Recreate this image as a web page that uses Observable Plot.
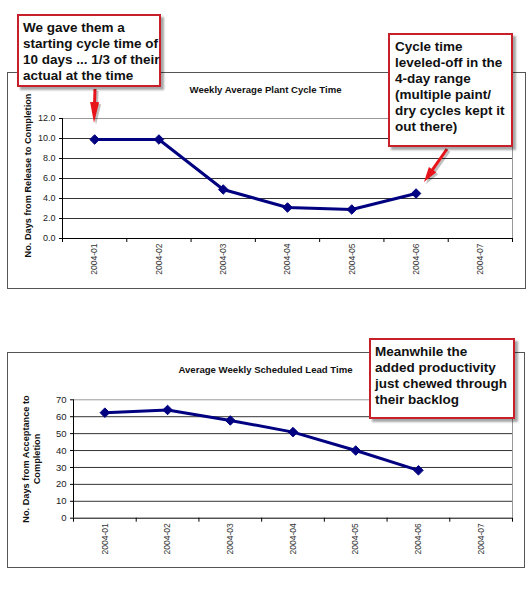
<!DOCTYPE html>
<html>
<head>
<meta charset="utf-8">
<script src="https://cdn.jsdelivr.net/npm/d3@7"></script>
<script src="https://cdn.jsdelivr.net/npm/@observablehq/plot@0.6"></script>
<style>
  html, body { margin: 0; padding: 0; background: #fff; }
  #page { position: relative; width: 530px; height: 594px; overflow: hidden; background: #fff;
          font-family: "Liberation Sans", Arial, sans-serif; }
  .frame { position: absolute; box-sizing: border-box; border: 1px solid #555; background: #fff; }
  .chart { position: absolute; left: 0; }
  .callout { position: absolute; box-sizing: border-box; background: #fff; border: 2px solid #c8202a;
             box-shadow: 3px 3px 2px rgba(0,0,0,0.35); padding: 4px 2px 0 4px;
             font: bold 13.5px/16px "Liberation Sans", Arial, sans-serif; color: #111; white-space: nowrap; }
  #arrows { position: absolute; left: 0; top: 0; pointer-events: none; }
</style>
</head>
<body>
<div id="page">
  <div class="frame" style="left:7px;top:72px;width:519px;height:217px;"></div>
  <div class="frame" style="left:7px;top:352px;width:518px;height:216px;"></div>
  <div id="c1" class="chart" style="top:0px;"></div>
  <div id="c2" class="chart" style="top:300px;"></div>
  <svg id="arrows" width="530" height="594"></svg>
  <div class="callout" style="left:17px;top:14px;width:144px;height:73px;">We gave them a<br>starting cycle time of<br>10 days ... 1/3 of their<br>actual at the time</div>
  <div class="callout" style="left:388px;top:33px;width:125px;height:114px;padding-left:5px;">Cycle time<br>leveled-off in the<br>4-day range<br>(multiple paint/<br>dry cycles kept it<br>out there)</div>
  <div class="callout" style="left:369px;top:338px;width:146px;height:81px;padding-left:4px;">Meanwhile the<br>added productivity<br>just chewed through<br>their backlog</div>
</div>
<script>
// ---- data ----
const weeks = ["2004-01", "2004-02", "2004-03", "2004-04", "2004-05", "2004-06", "2004-07"];
const cycleTime = [9.9, 9.9, 4.9, 3.1, 2.9, 4.5];      // weekly average plant cycle time (days)
const leadTime = [62.4, 64.0, 57.8, 50.9, 40.0, 28.3];  // average weekly scheduled lead time (days)
const cycleTicks = [0, 2, 4, 6, 8, 10, 12];
const leadTicks = [0, 10, 20, 30, 40, 50, 60, 70];
const title1 = "Weekly Average Plant Cycle Time";
const title2 = "Average Weekly Scheduled Lead Time";
const ylabel1 = "No. Days from Release to Completion";
const ylabel2 = "No. Days from Acceptance to\nCompletion";

const font = "'Liberation Sans', Arial, sans-serif";

function chart({values, ticks, fmt, title, ylabel, height, mt, mb, ml, titleDx, titleDy, labelDx, labelDy, tickFont}) {
  const rows = values.map((v, i) => ({week: weeks[i], i, value: v}));
  const top = ticks[ticks.length - 1];
  return Plot.plot({
    width: 530,
    height,
    marginTop: mt,
    marginBottom: mb,
    marginLeft: ml,
    marginRight: 18,
    x: {domain: [0, weeks.length], axis: null},
    y: {domain: [0, top], axis: null},
    style: {fontFamily: font, background: "transparent", overflow: "visible", color: "#222"},
    marks: [
      Plot.ruleY(ticks.filter(t => t > 0 && t < top), {stroke: "#333", strokeWidth: 1}),
      Plot.ruleY([top], {stroke: "#999", strokeWidth: 1}),
      Plot.ruleX([weeks.length], {stroke: "#999", strokeWidth: 1}),
      Plot.axisY({ticks, tickFormat: fmt, tickSize: 3, tickPadding: 4, fontSize: tickFont, label: null, stroke: "#000", fill: "#222"}),
      Plot.axisX({ticks: d3.range(weeks.length + 1), tickFormat: () => "", tickSize: 4, label: null, stroke: "#000"}),
      Plot.ruleX([0], {stroke: "#000", strokeWidth: 1}),
      Plot.ruleY([0], {stroke: "#000", strokeWidth: 1}),
      Plot.text(weeks, {x: (d, i) => i + 0.5, text: d => d, frameAnchor: "bottom", rotate: -90,
                        textAnchor: "end", lineAnchor: "middle", dy: 5, fontSize: 8.5, fill: "#333"}),
      Plot.line(rows, {x: d => d.i + 0.5, y: "value", stroke: "#000080", strokeWidth: 3}),
      Plot.dot(rows, {x: d => d.i + 0.5, y: "value", symbol: "diamond2", r: 4.3, fill: "#000080",
                      stroke: "#000080", strokeWidth: 1}),
      Plot.text([title], {text: d => d, frameAnchor: "top", textAnchor: "middle", lineAnchor: "middle",
                          dx: titleDx, dy: titleDy, fontWeight: "bold", fontSize: 9.6, fill: "#111"}),
      Plot.text([ylabel], {text: d => d, frameAnchor: "left", rotate: -90, textAnchor: "middle", lineAnchor: "middle",
                           dx: labelDx, dy: labelDy, fontWeight: "bold", fontSize: 9.2, lineHeight: 1.2, fill: "#111"})
    ]
  });
}

document.getElementById("c1").appendChild(chart({
  values: cycleTime, ticks: cycleTicks, fmt: d3.format(".1f"), title: title1, ylabel: ylabel1,
  height: 300, mt: 118, mb: 62, ml: 62, titleDx: -22, titleDy: -29, labelDx: -35, labelDy: -3, tickFont: 9
}));
document.getElementById("c2").appendChild(chart({
  values: leadTime, ticks: leadTicks, fmt: d3.format("d"), title: title2, ylabel: ylabel2,
  height: 294, mt: 99.3, mb: 76.3, ml: 73, titleDx: -27.5, titleDy: -30, labelDx: -42.5, labelDy: 0, tickFont: 9.5
}));

// ---- callout arrows (annotation shapes) ----
function arrowPath(x0, y0, x1, y1, shaft, headLen, headW) {
  const dx = x1 - x0, dy = y1 - y0, L = Math.hypot(dx, dy);
  const ux = dx / L, uy = dy / L, px = -uy, py = ux;
  const bx = x1 - ux * headLen, by = y1 - uy * headLen;
  const pts = [
    [x0 + px * shaft / 2, y0 + py * shaft / 2],
    [bx + px * shaft / 2, by + py * shaft / 2],
    [bx + px * headW / 2, by + py * headW / 2],
    [x1, y1],
    [bx - px * headW / 2, by - py * headW / 2],
    [bx - px * shaft / 2, by - py * shaft / 2],
    [x0 - px * shaft / 2, y0 - py * shaft / 2]
  ];
  return "M" + pts.map(p => p.join(",")).join("L") + "Z";
}
const arrowSvg = d3.select("#arrows");
const arrowSpecs = [
  [95, 89, 94, 123, 3, 21, 9],
  [447, 149, 424, 182, 3, 15, 9]
];
for (const a of arrowSpecs) {
  arrowSvg.append("path").attr("d", arrowPath(...a)).attr("fill", "rgba(0,0,0,0.25)")
    .attr("transform", "translate(2,2)");
  arrowSvg.append("path").attr("d", arrowPath(...a)).attr("fill", "#e8141c");
}
</script>
</body>
</html>
